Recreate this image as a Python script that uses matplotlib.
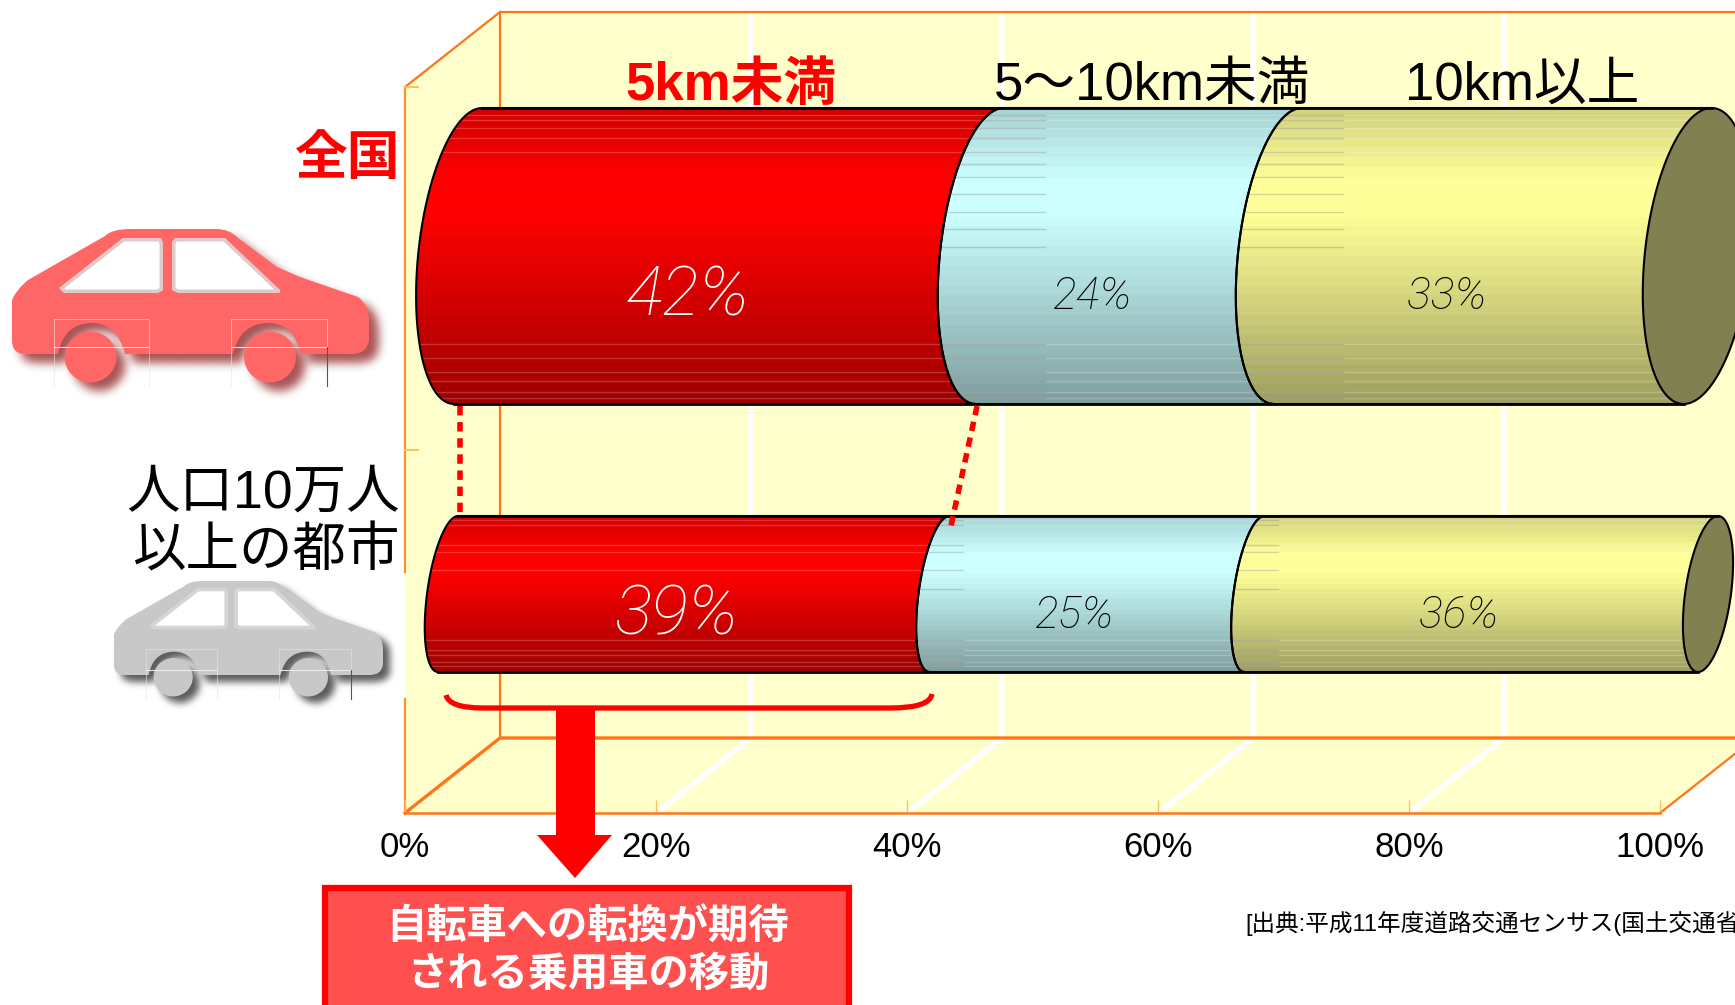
import numpy as np
import matplotlib
matplotlib.use('Agg')
import matplotlib.pyplot as plt
from matplotlib.path import Path
from matplotlib.patches import PathPatch, Polygon, Ellipse, Rectangle
from matplotlib.transforms import Affine2D

# shares of car trips by distance
bands = ['5km未満', '5～10km未満', '10km以上']
national = [42, 24, 33]
cities = [39, 25, 36]
ticks = [0, 20, 40, 60, 80, 100]
tick_labels = ['0%', '20%', '40%', '60%', '80%', '100%']
row_labels = ['全国', '人口10万人\n以上の都市']
source = '[出典:平成11年度道路交通センサス(国土交通省)]'
note = '自転車への転換が期待\nされる乗用車の移動'

W, H = 1735, 1005
PX_PER_PCT = 12.55
X0 = 405
DEPTH = 95 / PX_PER_PCT
ORANGE = '#FF7518'
JP = ['Liberation Sans', 'Noto Sans CJK JP']

plt.rcParams['font.family'] = JP

fig = plt.figure(figsize=(W / 100, H / 100), dpi=100)
ax = fig.add_axes([0, 0, 1, 1])
ax.patch.set_visible(False)
# pixels from the top left, for the things that are not on the percent scale
px = Affine2D().scale(1, -1).translate(0, H)


def to_pct(x):
    return (x - X0) / PX_PER_PCT


def bands_image(color, top, bottom, zorder):
    n = 30
    f = (np.arange(n) + 0.5) / n
    shade = np.interp(f, [0, 0.24, 0.36, 1], [0.82, 1, 1, 0.62])
    img = shade[:, None, None] * np.array(matplotlib.colors.to_rgb(color))[None, None, :]
    return ax.imshow(img, extent=(-40, 110, bottom, top), aspect='auto', interpolation='nearest', zorder=zorder)


def arc(cx, cy, a, s, b, reverse=False):
    t = np.radians(np.linspace(90, 270, 50))
    if reverse:
        t = t[::-1]
    x = cx + (a * np.cos(t) + s * np.sin(t)) / PX_PER_PCT
    y = cy - b * np.sin(t)
    return np.column_stack([x, y])


def cylinder(values, start_px, stretch, cy, b, a, s, cap_a, label_size, colors, white_y, grey_y, label_dy):
    top, bottom = cy - b, cy + b
    # each bar sits at its own depth, so its scale differs a little from the floor's
    edges = to_pct(start_px) + np.concatenate([[0], np.cumsum(values)]) * stretch / PX_PER_PCT
    shift = label_dy * 1.25 / PX_PER_PCT
    for i, v in enumerate(values):
        pts = np.vstack([arc(edges[i], cy, a, s, b), arc(edges[i + 1], cy, a, s, b, reverse=True)])
        path = Path(np.vstack([pts, pts[0]]))
        im = bands_image(colors[i], top, bottom, 3 + i * 0.1)
        im.set_clip_path(path, transform=ax.transData)
        # thin seams between the shading bands
        for y in white_y:
            ln, = ax.plot([edges[i] - 10, edges[i + 1]], [y, y], color='white', alpha=0.2, lw=1, zorder=3.5)
            ln.set_clip_path(path, transform=ax.transData)
        if i > 0:
            for y in white_y + grey_y:
                ln, = ax.plot([edges[i] - 10, edges[i] + a * 1.1 / PX_PER_PCT], [y, y], color='#777777',
                              alpha=0.3, lw=1, zorder=3.6)
                ln.set_clip_path(path, transform=ax.transData)
        ax.add_patch(PathPatch(path, fc='none', ec='black', lw=1.5, zorder=4))
        ax.text((edges[i] + edges[i + 1]) / 2 - shift + (0.4 if i == 0 else 0), cy + label_dy + 4, f'{v}%',
                family='Roboto', style='italic', weight='light', size=label_size[i],
                color='white' if i == 0 else 'black', ha='center', va='center', zorder=5)
    # far end of the cylinder
    t = np.radians(np.linspace(0, 360, 120))
    x = edges[-1] + (cap_a * np.cos(t) + s * np.sin(t)) / PX_PER_PCT
    y = cy - b * np.sin(t)
    ax.add_patch(Polygon(np.column_stack([x, y]), closed=True, fc='#808050', ec='black', lw=1.5, zorder=4.2))
    ax.plot([edges[0] + s / PX_PER_PCT, edges[-1] + s / PX_PER_PCT], [top, top], color='black', lw=2, zorder=4.3)
    ax.plot([edges[0] - s / PX_PER_PCT, edges[-1] - s / PX_PER_PCT], [bottom, bottom], color='black', lw=2, zorder=4.3)
    return edges


def box_blur(a, k):
    kernel = np.ones(k) / k
    for _ in range(3):
        a = np.apply_along_axis(lambda r: np.convolve(r, kernel, mode='same'), 0, a)
        a = np.apply_along_axis(lambda r: np.convolve(r, kernel, mode='same'), 1, a)
    return a


def car(color, shadow, inner, base, blur, shift, strength):
    M, L, C = Path.MOVETO, Path.LINETO, Path.CURVE3
    body = [(M, (12, 340)), (L, (12, 300)), (C, (16, 290)), (C, (28, 280)), (L, (105, 236)), (C, (112, 229)), (C, (130, 229)),
            (L, (216, 229)), (C, (230, 229)), (C, (238, 238)), (L, (277, 267)), (L, (300, 277)), (L, (358, 297)),
            (C, (369, 305)), (C, (369, 320)), (L, (369, 340)), (C, (367, 354)), (C, (352, 354)),
            (L, (300, 354)), (C, (294, 323)), (C, (269, 323)), (C, (240, 323)), (C, (233, 354)),
            (L, (125, 354)), (C, (117, 323)), (C, (92, 323)), (C, (64, 323)), (C, (58, 354)),
            (L, (25, 354)), (C, (12, 354)), (C, (12, 340)), (L, (12, 340))]
    body_path = Path([p for _, p in body], [c for c, _ in body])
    win1 = Path([(59, 288), (123, 238), (161, 238), (163, 243), (163, 290), (158, 293), (64, 293), (59, 288)])
    win2 = Path([(172, 242), (175, 238), (225, 238), (280, 290), (280, 293), (178, 293), (172, 290), (172, 242)])
    wheels = [(90.5, 357), (270, 357)]
    tr = base + px

    # blurred drop shadow of the silhouette
    gx, gy = np.meshgrid(np.arange(0, 400), np.arange(200, 720))
    pts = np.column_stack([gx.ravel(), gy.ravel()])
    mask = base.transform_path(body_path).contains_points(pts)
    for w in (win1, win2):
        mask &= ~base.transform_path(w).contains_points(pts)
    for wx, wy in base.transform(wheels):
        rx, ry = base.transform([(26, 25.5)])[0] - base.transform([(0, 0)])[0]
        mask |= ((pts[:, 0] - wx) / rx) ** 2 + ((pts[:, 1] - wy) / ry) ** 2 < 1
    mask = box_blur(mask.reshape(gx.shape).astype(float), blur)
    rgba = np.zeros(mask.shape + (4,))
    rgba[..., :3] = matplotlib.colors.to_rgb(shadow)
    rgba[..., 3] = mask * strength
    ax.imshow(rgba, extent=(to_pct(0 + shift), to_pct(400 + shift), 720 + shift, 200 + shift), aspect='auto',
              interpolation='bilinear', zorder=2)

    ax.add_patch(PathPatch(body_path, fc=color, ec='none', transform=tr, zorder=3))
    for w in (win1, win2):
        ax.add_patch(PathPatch(w, fc='white', ec='none', transform=tr, zorder=3.1))
        edge = PathPatch(w, fc='none', ec=inner, lw=5, alpha=0.3, transform=tr, zorder=3.2)
        ax.add_patch(edge)
        edge.set_clip_path(w, transform=tr)
    for wx, wy in wheels:
        ax.add_patch(Ellipse((wx, wy), 52, 51, fc=color, ec='none', transform=tr, zorder=3.3))
    # faint frames left around the wheels
    for x0, x1 in [(54, 149), (231, 327)]:
        ax.plot([x0, x0, x1, x1], [386, 319, 319, 386], color='#e4e4e4', lw=0.6, alpha=0.7, transform=tr, zorder=3.4)
        ax.plot([x0, x1], [347, 347], color='#eeeeee', lw=0.7, transform=tr, zorder=3.4)
    ax.plot([327, 327], [347, 386], color='#555555', lw=0.8, transform=tr, zorder=3.4)


# chart box: side wall, back wall and floor
front_y, back_y, top_y, side_y = 813, 738, 12, 87
r = to_pct(W)
floor_edge = front_y - (r - 100) * PX_PER_PCT * 75 / 95
ax.add_patch(Polygon([(0, side_y), (DEPTH, top_y), (r, top_y), (r, floor_edge), (100, front_y), (0, front_y)],
                     closed=True, fc='#FFFFCC', ec='none', zorder=1))
for t in ticks[1:-1]:
    ax.plot([t + 0.05, t + DEPTH, t + DEPTH], [front_y, back_y, top_y], color='white', lw=3.8, zorder=1.2)
line = dict(color=ORANGE, lw=1.6, zorder=1.5)
ax.plot([0, DEPTH, r], [side_y, top_y, top_y], **line)
ax.plot([DEPTH, DEPTH], [top_y, back_y], **line)
ax.plot([0, DEPTH, r], [front_y, back_y, back_y], lw=2.4, color=ORANGE, zorder=1.5)
ax.plot([100, r], [front_y, floor_edge], **line)
ax.plot([0, 0], [side_y, 572], color='#FF9030', lw=1.6, zorder=1.5)
ax.plot([0, 0], [699, front_y], color='#FF9030', lw=1.6, zorder=1.5)
for y in (side_y, 450):
    ax.plot([0, 1], [y, y], color='#FFC060', lw=1.4, zorder=1.5)

# the two bars
colors = ['#FF0000', '#CCFFFF', '#FFFF99']
top_edges = cylinder(national, 468, 12.42, 256, 148, 50, 14, 53, [50, 32, 32], colors,
                     [115, 120, 128, 138, 152, 344, 358, 372, 381, 392, 398],
                     [164, 177, 194, 212, 229, 247], 37)
low_edges = cylinder(cities, 448, 12.6, 594, 78, 21, 10, 23, [50, 32, 32], colors,
                     [520, 525, 545, 552, 570, 640, 650, 655, 662, 666], [589], 18)

# dotted guides joining the 5km boundaries of both bars
ax.plot([to_pct(460), to_pct(460)], [406, 516], color='#FF0000', lw=4, ls=(0, (1.7, 1.2)), zorder=6)
ax.plot([top_edges[1] - 1, top_edges[1] - 3.1], [406, 527], color='#FF0000', lw=4, ls=(0, (1.7, 1.2)), zorder=6)

# real x axis along the front edge of the floor
for name in ('top', 'left', 'right'):
    ax.spines[name].set_visible(False)
ax.spines['bottom'].set_position(('data', front_y))
ax.spines['bottom'].set_bounds(0, 100)
ax.spines['bottom'].set_color(ORANGE)
ax.spines['bottom'].set_linewidth(1.8)
ax.set_xticks(ticks)
ax.set_xticklabels(tick_labels)
ax.set_yticks([])
ax.tick_params(axis='x', direction='in', length=9.4, width=1, color='#FFC060', labelsize=25, pad=13, labelcolor='black')
ax.set_xlim(to_pct(0), to_pct(W))
ax.set_ylim(H, 0)

# headers above the top bar
ax.text(731, 86, bands[0], color='#FF0000', size=38, weight='bold', ha='center', va='center', transform=px, zorder=7)
ax.text(1152, 86, bands[1], color='black', size=38, ha='center', va='center', transform=px, zorder=7)
ax.text(1522, 86, bands[2], color='black', size=38, ha='center', va='center', transform=px, zorder=7)

# row labels
ax.text(400, 160, row_labels[0], color='#FF0000', size=38, weight='bold', ha='right', va='center', transform=px, zorder=7)
ax.text(400, 523, row_labels[1], color='black', size=38.5, ha='right', va='center', linespacing=1.22,
        multialignment='right', transform=px, zorder=7)

# cars
car('#FF6666', '#8A1A1A', '#905050', Affine2D(), 9, 8, 0.75)
small = Affine2D().translate(-12, -229).scale(0.7535, 0.752).translate(114, 581)
car('#C8C8C8', '#333333', '#777777', small, 7, 6, 0.8)

# bracket under the 5km part of the lower bar
M, L, C = Path.MOVETO, Path.LINETO, Path.CURVE3
brace = Path([(446, 695), (449, 708), (483, 708), (890, 708), (930, 708), (932, 694)], [M, C, C, L, C, C])
ax.add_patch(PathPatch(brace, fc='none', ec='#FF0000', lw=3.8, transform=px, zorder=6))

# arrow down to the note box
ax.add_patch(Polygon([(556, 708), (595, 708), (595, 835), (612, 835), (575, 878), (537, 835), (556, 835)],
                     closed=True, fc='#FF0000', ec='none', transform=px, zorder=6))
ax.add_patch(Rectangle((325, 888), 524, 130, fc='#FF5050', ec='#FF0000', lw=4.5, transform=px, zorder=6, clip_on=True))
ax.text(588, 950, note, color='white', size=29, weight='bold', ha='center', va='center', linespacing=1.3,
        transform=px, zorder=7)

ax.text(1245, 923, source, color='black', size=17, ha='left', va='center', transform=px, zorder=7)

fig.savefig('out.png', dpi=100)
